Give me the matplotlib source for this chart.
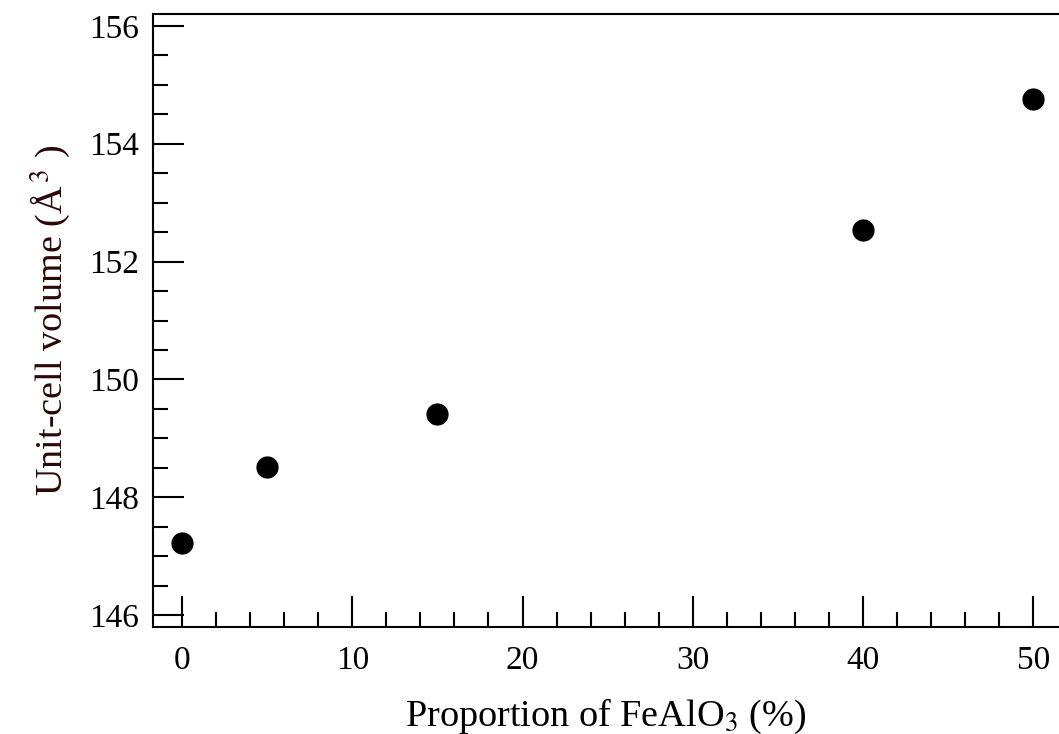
import matplotlib
matplotlib.use("Agg")
import matplotlib.pyplot as plt
from matplotlib.ticker import MultipleLocator

proportion = [0, 5, 15, 40, 50]
volume = [147.22, 148.51, 149.41, 152.54, 154.76]

plt.rcParams['font.family'] = ['Liberation Serif', 'DejaVu Serif']
plt.rcParams['mathtext.fontset'] = 'stix'

W, H = 1059, 734
fig = plt.figure(figsize=(W / 100, H / 100), dpi=100)
left, right, bottom, top = 153, 1059, 627, 14
ax = fig.add_axes([left / W, 1 - bottom / H, (right - left) / W, (bottom - top) / H])

ax.plot(proportion, volume, 'o', color='black', markersize=15, linestyle='none')

ax.set_xlim(-1.7, 51.5)
ax.set_ylim(145.8, 156.2)
ax.xaxis.set_major_locator(MultipleLocator(10))
ax.xaxis.set_minor_locator(MultipleLocator(2))
ax.yaxis.set_major_locator(MultipleLocator(2))
ax.yaxis.set_minor_locator(MultipleLocator(0.5))

ax.tick_params(which='both', direction='in', top=False, right=False, width=1.5,
               labelsize=24, colors='black')
ax.tick_params(which='major', length=22, pad=10)
ax.tick_params(which='minor', length=11)
ax.tick_params(axis='x', which='major', pad=13)

for s in ['left', 'bottom', 'top']:
    ax.spines[s].set_linewidth(1.5)
ax.spines['right'].set_visible(False)

ax.set_xlabel('Proportion of FeAlO$_3$ (%)', fontsize=27.5, labelpad=15)
ax.set_ylabel('Unit-cell volume (Å$^{\\,3}$ )', fontsize=27.5, labelpad=12, color='#2a0808')

fig.savefig('out.png', dpi=100)
